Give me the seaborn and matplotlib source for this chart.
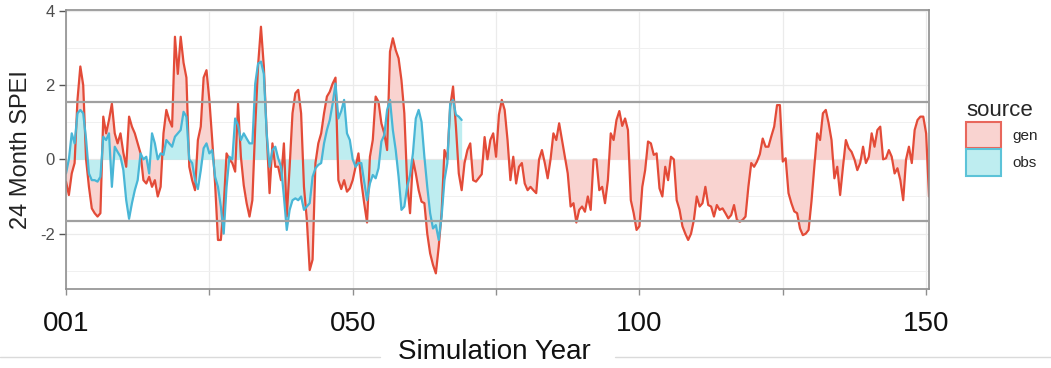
import numpy as np
import pandas as pd
import matplotlib
matplotlib.use("Agg")
import matplotlib.pyplot as plt
import seaborn as sns
from matplotlib.patches import Patch
from matplotlib.lines import Line2D

# ---------------- data (24-month SPEI, sampled every half simulation year) ----------------
step_years = 0.5
gen_spei = [
    -0.6, -0.96, -0.38, -0.1, 1.6, 2.5, 2.0, 0.0, -0.74, -1.32,
    -1.45, -1.54, -1.45, 1.15, 0.7, 1.06, 1.5, 0.7, 0.43, 0.7,
    0.18, -0.2, 1.15, 0.88, 0.7, 0.43, 0.16, -0.56, -0.65, -0.47,
    -0.74, -0.56, -1.0, -0.74, 0.7, 1.33, 1.06, 0.88, 3.3, 2.3,
    3.3, 2.6, 2.2, -0.2, -0.56, -0.83, 0.52, 0.88, 2.2, 2.4,
    1.6, 0.52, -0.65, -2.17, -2.17, -1.27, 0.16, 0.0, -0.1, -0.33,
    1.5, 0.07, -0.7, -1.18, -1.54, -1.1, 0.88, 2.54, 3.57, 2.5,
    0.7, -0.91, 0.43, -0.2, -0.2, -0.56, 0.43, -1.54, -0.2, 1.24,
    1.78, 1.87, 1.24, -0.74, -1.63, -2.98, -2.7, -0.1, 0.43, 0.7,
    1.24, 1.69, 1.82, 2.04, 2.2, -0.56, -0.8, -0.56, -0.87, -0.78,
    -0.56, -0.2, 0.16, -0.6, -1.18, -1.7, 0.07, 0.52, 1.69, 1.55,
    0.97, 0.7, 0.25, 2.9, 3.26, 2.94, 2.72, 2.13, 1.24, -0.65,
    -1.45, 0.0, -0.38, -0.83, -1.14, -1.18, -2.0, -2.53, -2.84, -3.07,
    -2.35, -1.45, 0.25, 0.0, 1.42, 1.96, 0.88, -0.38, -0.83, -0.1,
    0.25, 0.43, -0.56, -0.6, -0.5, -0.4, 0.6, 0.0, 0.52, 0.7,
    0.07, 1.2, 1.6, 1.33, 0.52, -0.56, 0.07, -0.65, -0.2, -0.1,
    -0.65, -0.83, -0.74, -0.83, -0.91, 0.0, 0.25, -0.1, -0.51, 0.0,
    0.7, 0.52, 0.97, 0.52, 0.07, -0.38, -1.27, -1.18, -1.7, -1.36,
    -1.27, -1.41, -1.0, -1.36, 0.0, 0.0, -0.83, -0.74, -1.18, -0.56,
    0.7, 0.52, 1.06, 1.3, 0.9, 1.1, 0.79, -1.1, -1.45, -1.9,
    -1.8, -0.74, -0.29, 0.48, 0.43, 0.12, 0.16, -0.78, -1.0, -0.2,
    -0.56, 0.07, 0.0, -1.1, -1.36, -1.8, -2.0, -2.17, -2.0, -1.63,
    -1.0, -1.27, -1.18, -0.74, -1.23, -1.27, -1.54, -1.23, -1.36, -1.32,
    -1.45, -1.59, -1.5, -1.23, -1.63, -1.68, -1.63, -1.54, -0.74, -0.1,
    -0.2, -0.06, 0.14, 0.56, 0.34, 0.34, 0.62, 0.88, 1.46, 1.46,
    -0.06, 0.03, -0.91, -1.18, -1.4, -1.45, -1.86, -2.04, -2.0, -1.9,
    -1.14, -0.2, 0.7, 0.52, 1.24, 1.33, 0.97, 0.52, -0.51, -0.2,
    -0.96, -0.2, 0.52, 0.3, 0.2, 0.0, -0.29, -0.1, 0.34, -0.1,
    0.07, 0.7, 0.34, 0.79, 0.88, 0.0, 0.03, 0.25, 0.07, -0.38,
    -0.24, -0.56, -1.1, 0.0, 0.34, -0.1, 0.79, 1.06, 1.15, 1.15,
    0.7, -1.0,
]
obs_spei = [
    -0.38, 0.0, 0.7, 0.43, 1.24, 1.33, 1.24, 0.54, -0.38, -0.56,
    -0.56, -0.6, -0.47, 0.61, 0.52, 0.7, -0.74, 0.34, 0.2, 0.07,
    -0.29, -1.1, -1.6, -1.18, -0.83, -0.56, 0.16, 0.0, 0.07, -0.38,
    0.7, 0.43, 0.0, 0.16, 0.12, 0.52, 0.43, 0.34, 0.61, 0.7,
    0.79, 1.28, 1.15, 0.0, -0.1, -0.56, -0.8, -0.3, 0.3, 0.43,
    0.16, 0.25, -0.47, -0.74, -1.27, -2.0, -0.74, 0.07, 0.0, 1.1,
    0.92, 0.52, 0.7, 0.56, 0.43, 0.43, 2.04, 2.58, 2.63, 2.3,
    0.7, -0.2, 0.25, 0.34, 0.03, -0.2, -1.0, -1.9, -1.36, -1.1,
    -1.05, -1.1, -1.0, -1.36, -1.27, -1.18, -0.47, -0.24, -0.15, -0.1,
    0.43, 0.79, 1.06, 1.5, 2.04, 1.1, 1.3, 1.6, 0.7, 0.52,
    0.0, -0.2, -0.1, -0.1, -0.6, -1.1, -0.65, -0.42, -0.51, -0.24,
    0.48, 0.65, 1.33, 1.6, 0.79, 0.25, -0.47, -1.36, -1.27, -0.74,
    -0.42, 0.16, 1.1, 1.33, 1.01, 0.07, -0.74, -1.45, -1.86, -1.77,
    -2.17, -1.54, -0.56, -0.1, 1.5, 1.6, 1.2, 1.15, 1.06,
]
sources = ["gen", "obs"]
thresholds = [1.55, -1.65]
y_ticks = [-2, 0, 2, 4]
x_major = [0, 25, 50, 75, 100, 125, 150]
x_tick_labels = ["001", "", "050", "", "100", "", "150"]

gen_year = np.arange(len(gen_spei)) * step_years
obs_year = np.arange(len(obs_spei)) * step_years
df = pd.concat([
    pd.DataFrame({"year": gen_year, "spei": gen_spei, "source": "gen"}),
    pd.DataFrame({"year": obs_year, "spei": obs_spei, "source": "obs"}),
], ignore_index=True)

# ---------------- styling ----------------
line_col = {"gen": "#E34B38", "obs": "#49B6D6"}
fill_col = {"gen": "#F9D3D0", "obs": "#BEEDF0"}
key_edge = {"gen": "#E8675C", "obs": "#5CC3D8"}

sns.set_theme(style="white")
plt.rcParams["font.family"] = ["Liberation Sans", "DejaVu Sans"]
plt.rcParams["axes.unicode_minus"] = False

W, H = 1051, 368
fig = plt.figure(figsize=(W / 100, H / 100), dpi=100)
L, R, T, B = 66, 929, 10, 289
ax = fig.add_axes([L / W, 1 - B / H, (R - L) / W, (B - T) / H])

# grid
ax.set_axisbelow(True)
ax.set_yticks(y_ticks)
ax.set_yticks([-3, -1, 1, 3], minor=True)
ax.set_xticks(x_major)
ax.set_xticklabels(x_tick_labels)
ax.grid(which="major", color="#EBEBEB", lw=0.9)
ax.grid(which="minor", axis="y", color="#F0F0F0", lw=0.7)

# filled areas between series and zero
for s, z in zip(sources, [1.0, 1.1]):
    sub = df[df.source == s]
    ax.fill_between(sub.year, 0, sub.spei, color=fill_col[s], lw=0, zorder=z)

sns.lineplot(data=df, x="year", y="spei", hue="source", palette=line_col,
             hue_order=sources, linewidth=1.6, legend=False, ax=ax, zorder=2)

for t in thresholds:
    ax.axhline(t, color="#A0A0A0", lw=1.6, zorder=3)

ax.set_xlim(0, 150.5)
ax.set_ylim(-3.49, 4.02)

for sp in ax.spines.values():
    sp.set_visible(True)
    sp.set_color("#8F8F8F")
    sp.set_linewidth(1.2)

ax.tick_params(axis="y", which="major", length=5, width=1, color="#555555",
               labelsize=12, labelcolor="#4D4D4D", pad=3, left=True)
ax.tick_params(axis="x", which="major", length=4, width=1, color="#8F8F8F",
               labelsize=20, labelcolor="#111111", pad=12, bottom=True)
ax.tick_params(which="minor", length=0)

ax.set_ylabel("24 Month SPEI", fontsize=17, color="#222222", labelpad=6)
ax.set_xlabel("")

fig.text(494 / W, 1 - 352 / H, "Simulation Year", fontsize=20, color="#111111",
         ha="center", va="center")
fig.add_artist(Line2D([0, 380 / W], [1 - 357 / H] * 2, color="#DADADA", lw=1))
fig.add_artist(Line2D([615 / W, 1], [1 - 357 / H] * 2, color="#DADADA", lw=1))

handles = [Patch(facecolor=fill_col[s], edgecolor=key_edge[s], linewidth=1.5) for s in sources]
leg = fig.legend(handles, sources, title="source", loc="upper left",
                 bbox_to_anchor=(960 / W, 1 - 94 / H), frameon=False,
                 fontsize=11, title_fontsize=16, handlelength=2.3, handleheight=2.3,
                 labelspacing=0.05, handletextpad=0.7, borderaxespad=0, alignment="left")

fig.savefig("out.png", dpi=100)
